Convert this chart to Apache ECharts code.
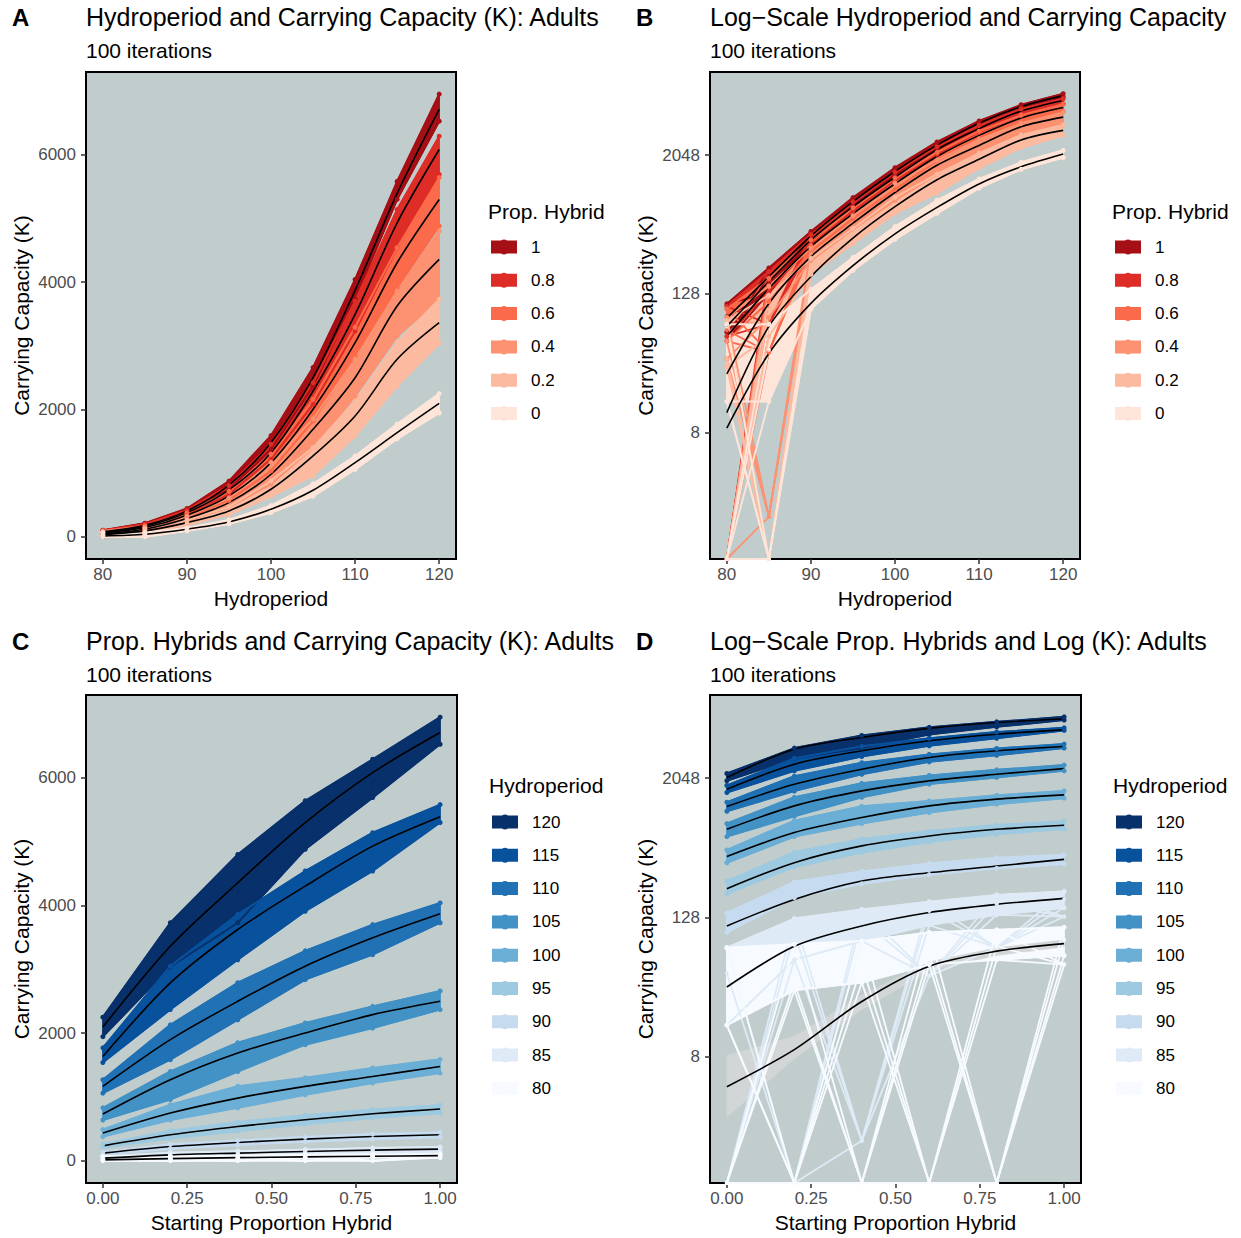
<!DOCTYPE html>
<html><head><meta charset="utf-8">
<script src="https://cdn.jsdelivr.net/npm/echarts@6/dist/echarts.min.js"></script>
<style>html,body{margin:0;padding:0;background:#fff}#c{width:1241px;height:1238px}</style>
</head><body><div id="c"></div>
<script>
// ---------------- data ----------------
const hydro = [80, 85, 90, 95, 100, 105, 110, 115, 120];
const prop = [0, 0.2, 0.4, 0.6, 0.8, 1];
const propLabels = ['0', '0.2', '0.4', '0.6', '0.8', '1'];
const hydroLabels = ['80', '85', '90', '95', '100', '105', '110', '115', '120'];
const reds = ['#fee5d9', '#fcbba1', '#fc9272', '#fb6a4a', '#de2d26', '#a50f15'];
const blues = ['#f7fbff', '#deebf7', '#c6dbef', '#9ecae1', '#6baed6', '#4292c6', '#2171b5', '#08519c', '#08306b'];

// rows: hydroperiod 80..120, columns: proportion hybrid 0..1
const kMean = [
  [15, 35, 50, 62, 72, 82],
  [42, 94, 121, 146, 168, 184],
  [121, 224, 287, 340, 381, 408],
  [235, 408, 538, 643, 737, 811],
  [435, 748, 983, 1166, 1322, 1479],
  [733, 1271, 1689, 2003, 2290, 2499],
  [1166, 1898, 2499, 3048, 3493, 3870],
  [1636, 2787, 3624, 4303, 4930, 5391],
  [2097, 3362, 4356, 5297, 6081, 6709]
];
const kLow = [
  [15, 30, 35, 50, 55, 60],
  [15, 55, 80, 110, 135, 155],
  [95, 190, 250, 300, 340, 370],
  [205, 350, 465, 575, 670, 745],
  [380, 640, 830, 1035, 1220, 1375],
  [640, 960, 1400, 1820, 2080, 2370],
  [1060, 1585, 2210, 2840, 3230, 3730],
  [1540, 2370, 3150, 3910, 4540, 5300],
  [1945, 3040, 3730, 4880, 5690, 6525]
];
const kHigh = [
  [70, 75, 80, 95, 100, 105],
  [70, 125, 150, 175, 200, 215],
  [140, 260, 320, 375, 420, 445],
  [265, 470, 610, 715, 805, 875],
  [490, 880, 1170, 1300, 1455, 1590],
  [830, 1400, 1850, 2160, 2420, 2660],
  [1270, 2130, 2790, 3290, 3700, 4040],
  [1770, 3050, 3860, 4540, 5140, 5580],
  [2250, 3730, 4800, 5640, 6290, 6950]
];
// lowest iteration value per cell (0 = extinct)
const kMin = [
  [0, 0, 0, 0, 0, 50],
  [0, 0, 1.5, 40, 70, 130],
  [95, 190, 250, 300, 340, 370],
  [205, 350, 465, 575, 670, 745],
  [380, 640, 830, 1035, 1220, 1375],
  [640, 960, 1400, 1820, 2080, 2370],
  [1060, 1585, 2210, 2840, 3230, 3730],
  [1540, 2370, 3150, 3910, 4540, 5300],
  [1945, 3040, 3730, 4880, 5690, 6525]
];
// smooth lines on log panels
// panel B: rows proportion 0..1, columns hydroperiod 80..120
const smoothB = [
  [8.8, 39, 106, 225, 425, 720, 1150, 1620, 2090],
  [12, 67, 181, 390, 730, 1250, 1880, 2770, 3350],
  [26, 106, 270, 525, 970, 1670, 2480, 3600, 4360],
  [55, 143, 330, 635, 1155, 1990, 3030, 4290, 5290],
  [67, 164, 375, 730, 1315, 2280, 3480, 4920, 6080],
  [79, 181, 408, 808, 1475, 2495, 3865, 5385, 6700]
];
// panel D: rows hydroperiod 80..120, columns proportion 0..1
const smoothD = [
  [4.4, 9.2, 24, 48.5, 65.4, 76],
  [32, 72, 108, 141, 166, 187],
  [108, 183, 264, 312, 356, 407],
  [227, 381, 532, 648, 740, 802],
  [430, 693, 935, 1180, 1350, 1470],
  [740, 1180, 1590, 1940, 2215, 2480],
  [1165, 1815, 2450, 3095, 3535, 3850],
  [1645, 2705, 3535, 4310, 4920, 5360],
  [2075, 3650, 4610, 5520, 6210, 6650]
];
const ribbonLow80 = [2.4, 7.7, 20.4, 44, 60, 71];
const ribbonHigh80 = [8.2, 12, 27, 53, 70, 82];

const linTicks = [0, 2000, 4000, 6000];
const logTicks = [8, 128, 2048];
const hydroTicks = [80, 90, 100, 110, 120];
const propTicks = [0, 0.25, 0.5, 0.75, 1];

// ---------------- chart ----------------
const FONT = '"Liberation Sans", Arial, Helvetica, sans-serif';
const LIN_MIN = -347, LIN_MAX = 7297;
const LOG_MIN = -0.63, LOG_MAX = 13.39;
const BG = '#C1CDCD';

const chart = echarts.init(document.getElementById('c'), null, {renderer: 'svg'});

const grids = [
  {left: 86, top: 72, width: 370, height: 487},
  {left: 710, top: 72, width: 370, height: 487},
  {left: 86, top: 695, width: 371, height: 488},
  {left: 710, top: 695, width: 371, height: 488}
].map(g => Object.assign(g, {show: true, backgroundColor: BG, borderColor: '#000', borderWidth: 2, containLabel: false}));

function xAxisCfg(gi, min, max, ticks, fmt, name) {
  return {
    gridIndex: gi, type: 'value', position: 'bottom', min, max, name, nameLocation: 'middle', nameGap: 29,
    nameTextStyle: {fontSize: 21, color: '#000', fontFamily: FONT},
    axisLine: {show: false, onZero: false},
    axisTick: {show: true, length: 5, customValues: ticks, lineStyle: {color: '#333', width: 1.5}},
    axisLabel: {customValues: ticks, formatter: fmt, fontSize: 17, color: '#4d4d4d', margin: 7, fontFamily: FONT},
    splitLine: {show: false}
  };
}
function yAxisCfg(gi, min, max, ticks, fmt) {
  return {
    gridIndex: gi, type: 'value', position: 'left', min, max, name: 'Carrying Capacity (K)', nameLocation: 'middle', nameGap: 54,
    nameTextStyle: {fontSize: 21, color: '#000', fontFamily: FONT},
    axisLine: {show: false, onZero: false},
    axisTick: {show: true, length: 5, customValues: ticks, lineStyle: {color: '#333', width: 1.5}},
    axisLabel: {customValues: ticks, formatter: fmt, fontSize: 17, color: '#4d4d4d', margin: 10, fontFamily: FONT},
    splitLine: {show: false}
  };
}
const logTickPos = logTicks.map(v => Math.log2(v));
const logFmt = v => String(Math.round(Math.pow(2, v)));
const xAxes = [
  xAxisCfg(0, 78, 122, hydroTicks, v => String(v), 'Hydroperiod'),
  xAxisCfg(1, 78, 122, hydroTicks, v => String(v), 'Hydroperiod'),
  xAxisCfg(2, -0.05, 1.05, propTicks, v => v.toFixed(2), 'Starting Proportion Hybrid'),
  xAxisCfg(3, -0.05, 1.05, propTicks, v => v.toFixed(2), 'Starting Proportion Hybrid')
];
const yAxes = [
  yAxisCfg(0, LIN_MIN, LIN_MAX, linTicks, v => String(v)),
  yAxisCfg(1, LOG_MIN, LOG_MAX, logTickPos, logFmt),
  yAxisCfg(2, LIN_MIN, LIN_MAX, linTicks, v => String(v)),
  yAxisCfg(3, LOG_MIN, LOG_MAX, logTickPos, logFmt)
];

const tfFor = isLog => isLog ? (v => Math.max(Math.log2(v), LOG_MIN)) : (v => v);

// filled band between two traces, drawn segment by segment through the axis scales
function bandSeries(pi, xs, lows, highs, color, strokeW) {
  const data = [];
  for (let k = 0; k < xs.length - 1; k++) {
    data.push([xs[k], lows[k], highs[k], xs[k + 1], lows[k + 1], highs[k + 1]]);
  }
  return {
    type: 'custom', xAxisIndex: pi, yAxisIndex: pi, silent: true, animation: false, clip: true,
    encode: {x: [0, 3], y: [1, 2, 4, 5]},
    renderItem: (params, api) => {
      const a = api.coord([api.value(0), api.value(1)]);
      const b = api.coord([api.value(0), api.value(2)]);
      const c = api.coord([api.value(3), api.value(5)]);
      const d = api.coord([api.value(3), api.value(4)]);
      return {type: 'polygon', shape: {points: [a, b, c, d]},
        style: {fill: color, stroke: color, lineWidth: strokeW, lineJoin: 'round'}};
    },
    data
  };
}

function panelSeries(pi, by, isLog) {
  const tf = tfFor(isLog);
  const xs = by === 'prop' ? hydro : prop;
  const n = xs.length;
  const order = by === 'prop' ? [5, 4, 3, 2, 1, 0] : [8, 7, 6, 5, 4, 3, 2, 1, 0];
  const colors = by === 'prop' ? reds : blues;
  const labels = by === 'prop' ? propLabels : hydroLabels;
  const cell = (grid, g, k) => by === 'prop' ? grid[k][g] : grid[g][k];
  const base = {type: 'line', xAxisIndex: pi, yAxisIndex: pi, silent: true, animation: false, clip: true};
  const out = [];
  for (const g of order) {
    const col = colors[g];
    const lows = xs.map((x, k) => tf(cell(kLow, g, k)));
    const highs = xs.map((x, k) => tf(cell(kHigh, g, k)));
    out.push(bandSeries(pi, xs, lows, highs, col, 1.5));
    for (const vals of [lows, highs]) {
      out.push(Object.assign({}, base, {name: labels[g], symbol: 'circle', symbolSize: 5,
        lineStyle: {color: col, width: 2}, itemStyle: {color: col},
        data: xs.map((x, k) => [x, vals[k]])}));
    }
    let any = false;
    for (let k = 0; k < n; k++) {
      if (cell(kMin, g, k) < cell(kLow, g, k)) {
        any = true;
        for (const nb of [kLow, kMean, kHigh]) {
          const pts = [];
          for (const j of [k - 1, k, k + 1]) {
            if (j >= 0 && j < n) pts.push([xs[j], tf(j === k ? cell(kMin, g, k) : cell(nb, g, j))]);
          }
          out.push(Object.assign({}, base, {symbol: 'circle', symbolSize: 4,
            lineStyle: {color: col, width: 1.8}, itemStyle: {color: col}, data: pts}));
        }
      }
    }
    if (any) {
      out.push(Object.assign({}, base, {symbol: 'circle', symbolSize: 4,
        lineStyle: {color: col, width: 1.8}, itemStyle: {color: col},
        data: xs.map((x, k) => [x, tf(cell(kMin, g, k))])}));
    }
  }
  return out;
}

function smoothSeries(pi, xs, rows, isLog) {
  const tf = tfFor(isLog);
  return rows.map(r => ({type: 'line', xAxisIndex: pi, yAxisIndex: pi, silent: true, animation: false,
    smooth: 0.3, symbol: 'none', lineStyle: {color: '#000', width: 1.6},
    data: xs.map((x, k) => [x, tf(r[k])])}));
}

const colsOf = (grid, c) => grid.map(r => r[c]);
const series = [];
series.push(...panelSeries(0, 'prop', false));
series.push(...smoothSeries(0, hydro, prop.map((p, c) => colsOf(kMean, c)), false));
series.push(...panelSeries(1, 'prop', true));
series.push(...smoothSeries(1, hydro, smoothB, true));
series.push(...panelSeries(2, 'hydro', false));
series.push(...smoothSeries(2, prop, kMean, false));
series.push(...panelSeries(3, 'hydro', true));
{
  const tf = tfFor(true);
  series.push(bandSeries(3, prop, ribbonLow80.map(tf), ribbonHigh80.map(tf), '#d3d6d6', 0.5));
}
series.push(...smoothSeries(3, prop, smoothD, true));

const ICON = 'path://M0,2L10,2Q13,0,16,2L26,2L26,15L16,15Q13,17,10,15L0,15Z';
function legendCfg(left, top, labels, colors) {
  const data = labels.map((l, i) => ({name: l, itemStyle: {color: colors[i], borderWidth: 0}})).reverse();
  return {left, top, padding: 0, orient: 'vertical', icon: ICON, itemWidth: 26, itemHeight: 17, itemGap: 16.3,
    selectedMode: false, data, itemStyle: {borderWidth: 0}, lineStyle: {width: 0},
    textStyle: {fontSize: 17, color: '#000', fontFamily: FONT, lineHeight: 17, padding: [0, 0, 0, 9]}};
}
const legends = [
  legendCfg(491, 238.5, propLabels, reds),
  legendCfg(1115, 238.5, propLabels, reds),
  legendCfg(492, 813.5, hydroLabels, blues),
  legendCfg(1116, 813.5, hydroLabels, blues)
];

function txt(x, y, text, size, bold) {
  return {type: 'text', x, y, silent: true, style: {text, fill: '#000', align: 'left', verticalAlign: 'middle',
    font: (bold ? 'bold ' : '') + size + 'px ' + FONT}};
}
const graphic = [
  txt(12, 17, 'A', 24, true), txt(636, 17, 'B', 24, true),
  txt(12, 641, 'C', 24, true), txt(636, 641, 'D', 24, true),
  txt(86, 17, 'Hydroperiod and Carrying Capacity (K): Adults', 25),
  txt(710, 17, 'Log\u2212Scale Hydroperiod and Carrying Capacity', 25),
  txt(86, 641, 'Prop. Hybrids and Carrying Capacity (K): Adults', 25),
  txt(710, 641, 'Log\u2212Scale Prop. Hybrids and Log (K): Adults', 25),
  txt(86, 50, '100 iterations', 21), txt(710, 50, '100 iterations', 21),
  txt(86, 674, '100 iterations', 21), txt(710, 674, '100 iterations', 21),
  txt(488, 211, 'Prop. Hybrid', 21), txt(1112, 211, 'Prop. Hybrid', 21),
  txt(489, 785, 'Hydroperiod', 21), txt(1113, 785, 'Hydroperiod', 21)
];

chart.setOption({
  animation: false,
  backgroundColor: '#fff',
  textStyle: {fontFamily: FONT},
  grid: grids, xAxis: xAxes, yAxis: yAxes,
  legend: legends, graphic, series
});
</script></body></html>
